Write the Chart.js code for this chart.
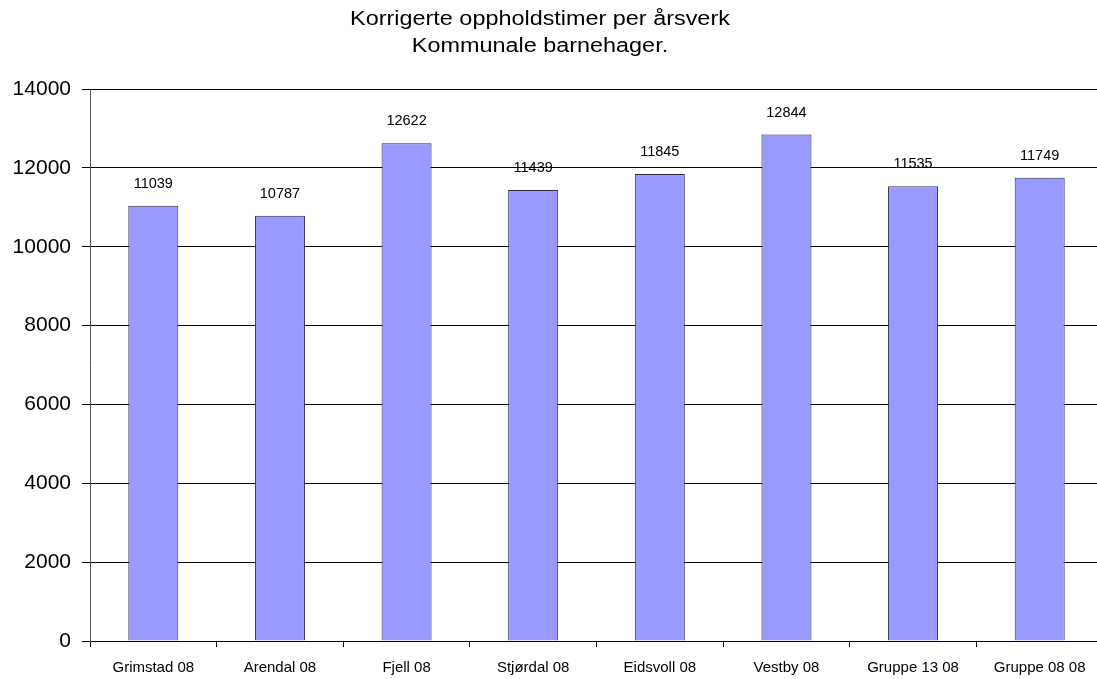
<!DOCTYPE html>
<html>
<head>
<meta charset="utf-8">
<script src="https://cdn.jsdelivr.net/npm/chart.js@4/dist/chart.umd.min.js"></script>
<style>
html,body{margin:0;padding:0;background:#fff;overflow:hidden;}
#wrap{position:relative;width:1103px;height:679px;}
</style>
</head>
<body>
<div id="wrap"><canvas id="c" width="1103" height="679"></canvas></div>
<script>
const titleLines = ['Korrigerte oppholdstimer per årsverk', 'Kommunale barnehager.'];
const categories = ['Grimstad 08', 'Arendal 08', 'Fjell 08', 'Stjørdal 08', 'Eidsvoll 08', 'Vestby 08', 'Gruppe 13 08', 'Gruppe 08 08'];
const values = [11039, 10787, 12622, 11439, 11845, 12844, 11535, 11749];
const yTicks = [0, 2000, 4000, 6000, 8000, 10000, 12000, 14000];

const FONT = '"Liberation Sans", Arial, sans-serif';

const titlePlugin = {
  id: 'titleText',
  afterDraw(chart) {
    const ctx = chart.ctx;
    ctx.save();
    ctx.fillStyle = '#000';
    ctx.font = '20px ' + FONT;
    ctx.textAlign = 'center';
    ctx.textBaseline = 'alphabetic';
    ctx.translate(540, 0);
    ctx.scale(1.17, 1);
    ctx.fillText(titleLines[0], 0, 25);
    ctx.fillText(titleLines[1], 0, 52);
    ctx.restore();
  }
};

const labelPlugin = {
  id: 'valueLabels',
  afterDatasetsDraw(chart) {
    const ctx = chart.ctx;
    const meta = chart.getDatasetMeta(0);
    ctx.save();
    ctx.fillStyle = '#000';
    ctx.font = '14.5px ' + FONT;
    ctx.textAlign = 'center';
    ctx.textBaseline = 'alphabetic';
    meta.data.forEach((bar, i) => {
      ctx.fillText(String(values[i]), bar.x, bar.y - 18);
    });
    ctx.restore();
  }
};

new Chart(document.getElementById('c'), {
  type: 'bar',
  data: {
    labels: categories,
    datasets: [{
      data: values,
      backgroundColor: '#9999FF',
      borderColor: '#2b2b4a',
      borderWidth: 1,
      barPercentage: 0.395,
      categoryPercentage: 1.0
    }]
  },
  options: {
    responsive: false,
    animation: false,
    devicePixelRatio: 1,
    layout: { padding: { top: 89, left: 0, right: 0, bottom: 0 } },
    plugins: { legend: { display: false }, tooltip: { enabled: false }, title: { display: false } },
    scales: {
      x: {
        offset: true,
        grid: { display: true, drawOnChartArea: false, offset: true, tickLength: 6, color: '#000' },
        border: { display: true, color: '#000', width: 1 },
        ticks: { color: '#000', font: { family: FONT, size: 15 }, padding: 12, maxRotation: 0, autoSkip: false },
        afterFit(s) { s.height = 38; }
      },
      y: {
        min: 0, max: 14000,
        afterBuildTicks(s) { s.ticks = yTicks.map(v => ({ value: v })); },
        grid: { color: '#000', lineWidth: 1, tickLength: 8, drawTicks: true },
        border: { display: true, color: '#555', width: 1 },
        ticks: { color: '#000', font: { family: FONT, size: 21 }, padding: 11, callback: (v) => String(v) },
        afterFit(s) { s.width = 90; }
      }
    }
  },
  plugins: [titlePlugin, labelPlugin]
});
</script>
</body>
</html>
